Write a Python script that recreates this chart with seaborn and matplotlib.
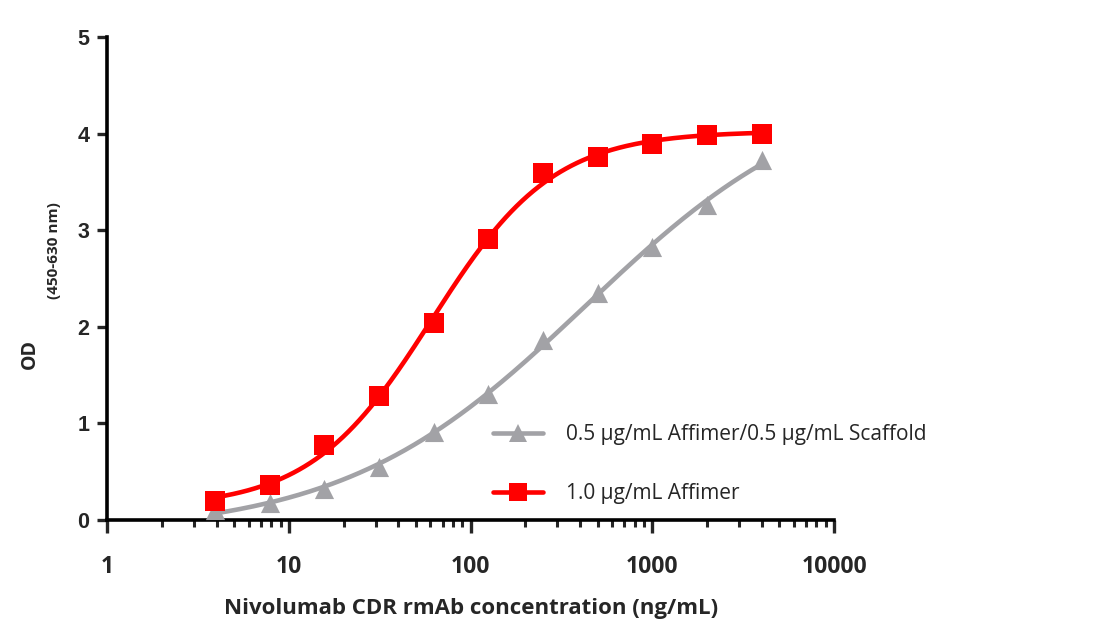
import numpy as np
import pandas as pd
import matplotlib
matplotlib.use("Agg")
import matplotlib.pyplot as plt
import seaborn as sns
from matplotlib.lines import Line2D
from matplotlib.ticker import FixedLocator, FixedFormatter, LogLocator, NullFormatter

# ---- data ----
conc = [3.90625, 7.8125, 15.625, 31.25, 62.5, 125, 250, 500, 1000, 2000, 4000]
od_affimer_1 = [0.20, 0.36, 0.78, 1.28, 2.04, 2.91, 3.59, 3.76, 3.90, 3.99, 4.00]
od_affimer_scaffold = [0.10, 0.18, 0.32, 0.55, 0.91, 1.31, 1.86, 2.35, 2.83, 3.26, 3.73]
label_red = "1.0 μg/mL Affimer"
label_gray = "0.5 μg/mL Affimer/0.5 μg/mL Scaffold"
x_ticks = [1, 10, 100, 1000, 10000]
x_tick_labels = ["1", "10", "100", "1000", "10000"]
y_ticks = [0, 1, 2, 3, 4, 5]

RED = "#FF0000"
GRAY = "#A2A2A6"


def four_pl(p, lx):
    b, t, le, h = p
    return b + (t - b) / (1.0 + 10 ** ((le - lx) * h))


def fit_4pl(x, y):
    lx = np.log10(np.asarray(x, float))
    y = np.asarray(y, float)
    p = np.array([y.min(), y.max() * 1.05, np.median(lx), 1.0])
    lam = 1e-3
    def sse(q):
        return np.sum((y - four_pl(q, lx)) ** 2)
    for _ in range(2000):
        r = y - four_pl(p, lx)
        J = np.empty((len(lx), 4))
        for j in range(4):
            dp = np.zeros(4)
            dp[j] = 1e-6
            J[:, j] = (four_pl(p + dp, lx) - four_pl(p, lx)) / 1e-6
        A = J.T @ J
        g = J.T @ r
        try:
            step = np.linalg.solve(A + lam * np.diag(np.diag(A) + 1e-12), g)
        except np.linalg.LinAlgError:
            break
        new = p + step
        if sse(new) < sse(p):
            p = new
            lam = max(lam * 0.3, 1e-12)
        else:
            lam *= 10
            if lam > 1e12:
                break
    return p


df = pd.DataFrame({
    "conc": conc * 2,
    "od": od_affimer_scaffold + od_affimer_1,
    "series": [label_gray] * len(conc) + [label_red] * len(conc),
})

curves = []
for lab, vals in [(label_gray, od_affimer_scaffold), (label_red, od_affimer_1)]:
    p = fit_4pl(conc, vals)
    lxs = np.linspace(np.log10(conc[0]), np.log10(conc[-1]), 300)
    curves.append(pd.DataFrame({"conc": 10 ** lxs, "od": four_pl(p, lxs), "series": lab}))
curve_df = pd.concat(curves, ignore_index=True)

sns.set_style("ticks")
plt.rcParams["font.family"] = ["Open Sans", "DejaVu Sans"]

fig = plt.figure(figsize=(11.10, 6.24), dpi=100)
ax = fig.add_axes([0.0968, 0.1667, 0.7514 - 0.0968, 0.9402 - 0.1667])

palette = {label_gray: GRAY, label_red: RED}
sns.lineplot(data=curve_df, x="conc", y="od", hue="series", palette=palette,
             ax=ax, legend=False, linewidth=3.3, sort=False, estimator=None)
for lab, mk in [(label_gray, "^"), (label_red, "s")]:
    sub = df[df["series"] == lab]
    sns.scatterplot(data=sub, x="conc", y="od", color=palette[lab], marker=mk,
                    s=190, linewidth=0, ax=ax, legend=False, zorder=5)

ax.set_xscale("log")
ax.set_xlim(1, 10000)
ax.set_ylim(0, 5)
ax.xaxis.set_major_locator(FixedLocator(x_ticks))
ax.xaxis.set_major_formatter(FixedFormatter(x_tick_labels))
ax.xaxis.set_minor_locator(LogLocator(base=10, subs=np.arange(2, 10)))
ax.xaxis.set_minor_formatter(NullFormatter())
ax.set_yticks(y_ticks)
ax.set_yticklabels([str(v) for v in y_ticks])

for s in ["top", "right"]:
    ax.spines[s].set_visible(False)
for s in ["left", "bottom"]:
    ax.spines[s].set_linewidth(2.6)
    ax.spines[s].set_color("black")

ax.tick_params(axis="x", which="major", length=9, width=2.4, pad=16, direction="out")
ax.tick_params(axis="x", which="minor", length=5, width=2.2, direction="out")
ax.tick_params(axis="y", which="major", length=7, width=2.4, pad=6, direction="out")
for t in ax.get_xticklabels():
    t.set_fontfamily(["Open Sans", "DejaVu Sans"])
    t.set_fontweight("bold")
    t.set_fontsize(16.5)
for t in ax.get_yticklabels():
    t.set_fontfamily(["Liberation Sans", "DejaVu Sans"])
    t.set_fontweight("bold")
    t.set_fontsize(15.5)

ax.set_xlabel("Nivolumab CDR rmAb concentration (ng/mL)", fontsize=16,
              fontweight="bold", labelpad=14)
ax.set_ylabel("OD", fontsize=14, fontweight="bold", labelpad=0)
ax.yaxis.set_label_coords(-0.093, 0.344)
ax.text(-0.074, 0.558, "(450-630 nm)", transform=ax.transAxes, rotation=90,
        fontsize=11, fontweight="bold", ha="center", va="center")

handles = [
    Line2D([0], [0], color=GRAY, lw=3.3, marker="^", markersize=13.5, markeredgewidth=0),
    Line2D([0], [0], color=RED, lw=3.3, marker="s", markersize=13.5, markeredgewidth=0),
]
leg = fig.legend(handles, [label_gray, label_red], loc="upper left",
                 bbox_to_anchor=(0.427, 0.35), frameon=False,
                 prop={"family": ["Open Sans", "DejaVu Sans"], "size": 15},
                 handlelength=2.4, handletextpad=1.1, labelspacing=1.8)

fig.savefig("out.png", dpi=100, facecolor="white")
